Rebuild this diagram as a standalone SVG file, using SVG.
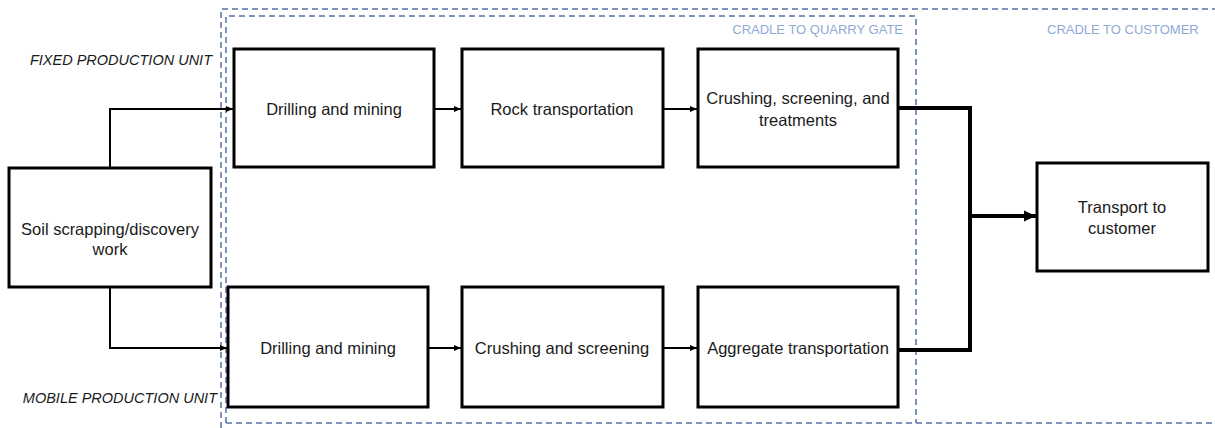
<svg xmlns="http://www.w3.org/2000/svg" width="1215" height="428" viewBox="0 0 1215 428">
<style>
.box{fill:#fff;stroke:#000;stroke-width:3}
.t{font-family:"Liberation Sans",Arial,sans-serif;font-size:16.5px;fill:#1a1a1a;text-anchor:middle}
.lab{font-family:"Liberation Sans",Arial,sans-serif;font-size:13px;fill:#8fa9d6}
.unit{font-family:"Liberation Sans",Arial,sans-serif;font-size:14.5px;font-style:italic;fill:#1a1a1a;text-anchor:end}
.dash{fill:none;stroke:#5470a8;stroke-width:1.5;stroke-dasharray:6,4}
.thin{fill:none;stroke:#000;stroke-width:2;marker-end:url(#a)}
.thick{fill:none;stroke:#000;stroke-width:4}
</style>
<defs>
<marker id="a" markerWidth="8" markerHeight="8" refX="7" refY="4" orient="auto" markerUnits="userSpaceOnUse"><path d="M0,1 L7,4 L0,7 z" fill="#000"/></marker>
<marker id="b" markerWidth="14" markerHeight="14" refX="12" refY="7" orient="auto" markerUnits="userSpaceOnUse"><path d="M0,1.5 L12,7 L0,12.5 z" fill="#000"/></marker>
</defs>
<g id="boundaries">
<path class="dash" d="M221,428 V9 H1215"/>
<path class="dash" d="M226,423 H1215"/>
<path class="dash" d="M226,423 V16 H916 V423"/>
<text class="lab" x="903" y="34" text-anchor="end">CRADLE TO QUARRY GATE</text>
<text class="lab" x="1047" y="34">CRADLE TO CUSTOMER</text>
</g>
<g id="unit-labels">
<text class="unit" x="212" y="65">FIXED PRODUCTION UNIT</text>
<text class="unit" x="217" y="403">MOBILE PRODUCTION UNIT</text>
</g>
<g id="connectors">
<path class="thin" d="M110,168 V109 H233"/>
<path class="thin" d="M110,287 V348 H227"/>
<path class="thin" d="M434,109 H461"/>
<path class="thin" d="M663,109 H697"/>
<path class="thin" d="M428,348 H461"/>
<path class="thin" d="M663,348 H697"/>
<path class="thick" d="M899,108 H970 V350 H899"/>
<path class="thick" d="M970,216 H1036" marker-end="url(#b)"/>
</g>
<g id="soil">
<rect class="box" x="9" y="168" width="202" height="119"/>
<text class="t" x="110" y="235">Soil scrapping/discovery</text>
<text class="t" x="110" y="255">work</text>
</g>
<g id="fixed-drilling">
<rect class="box" x="234" y="49" width="200" height="118"/>
<text class="t" x="334" y="115">Drilling and mining</text>
</g>
<g id="rock-transport">
<rect class="box" x="462" y="49" width="201" height="118"/>
<text class="t" x="562" y="115">Rock transportation</text>
</g>
<g id="crushing-treatments">
<rect class="box" x="698" y="49" width="200" height="118"/>
<text class="t" x="798" y="104">Crushing, screening, and</text>
<text class="t" x="798" y="126">treatments</text>
</g>
<g id="mobile-drilling">
<rect class="box" x="228" y="287" width="200" height="120"/>
<text class="t" x="328" y="354">Drilling and mining</text>
</g>
<g id="crushing-screening">
<rect class="box" x="462" y="287" width="201" height="120"/>
<text class="t" x="562" y="354">Crushing and screening</text>
</g>
<g id="aggregate-transport">
<rect class="box" x="698" y="287" width="200" height="120"/>
<text class="t" x="798" y="354">Aggregate transportation</text>
</g>
<g id="transport-customer">
<rect class="box" x="1037" y="163" width="171" height="108"/>
<text class="t" x="1122" y="213">Transport to</text>
<text class="t" x="1122" y="234">customer</text>
</g>
</svg>
